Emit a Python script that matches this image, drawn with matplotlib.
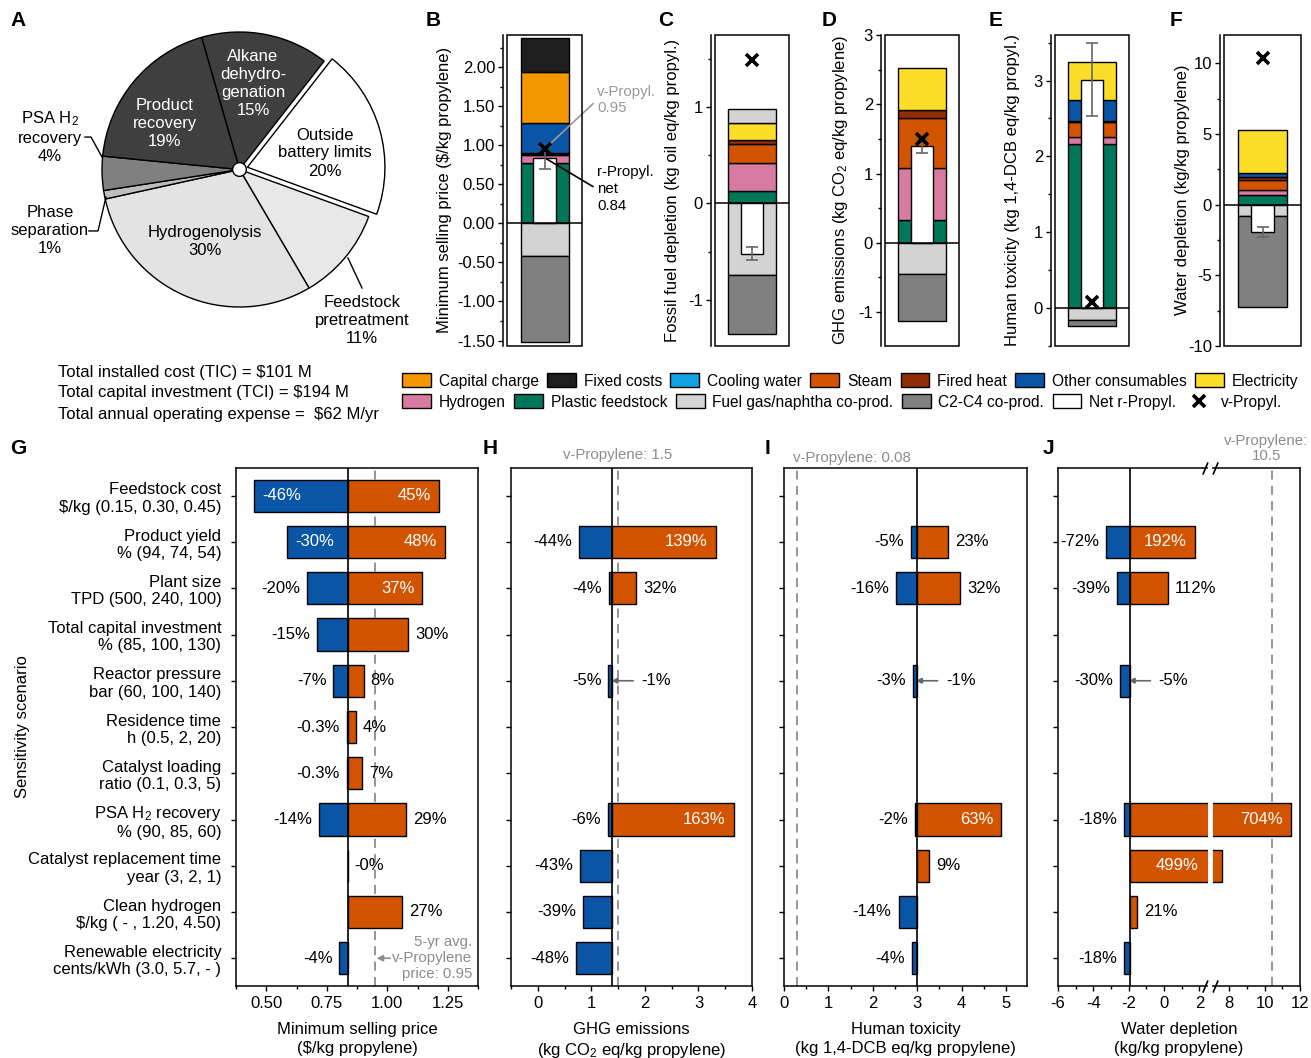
import numpy as np
import matplotlib
matplotlib.use("Agg")
import matplotlib.pyplot as plt
from matplotlib.patches import Patch, Rectangle, Circle
from matplotlib.lines import Line2D
from matplotlib.path import Path
from matplotlib.ticker import MultipleLocator, FormatStrFormatter

plt.rcParams['font.family'] = ['Liberation Sans', 'DejaVu Sans']
plt.rcParams['font.size'] = 12
plt.rcParams['mathtext.fontset'] = 'custom'
plt.rcParams['mathtext.rm'] = 'Liberation Sans'
plt.rcParams['mathtext.default'] = 'regular'
plt.rcParams['axes.linewidth'] = 1.1

W, H = 1311, 1058

# ---------------- data ----------------
# A: installed cost breakdown
pie_labels = ["Alkane\ndehydro-\ngenation\n15%", "Outside\nbattery limits\n20%",
              "Feedstock\npretreatment\n11%", "Hydrogenolysis\n30%", "Phase\nseparation\n1%",
              "PSA H$_2$\nrecovery\n4%", "Product\nrecovery\n19%"]
pie_shares = [15, 20, 11, 30, 1, 4, 19]
pie_colors = ['#3f3f3f', 'white', '#e8e8e8', '#e3e3e3', '#bebebe', '#808080', '#3f3f3f']
cost_lines = ["Total installed cost (TIC) = \\$101 M",
              "Total capital investment (TCI) = \\$194 M",
              "Total annual operating expense =  \\$62 M/yr"]

# B-F: contribution analysis
pos_parts = ["Plastic feedstock", "Hydrogen", "Steam", "Fired heat", "Other consumables",
             "Cooling water", "Electricity", "Capital charge", "Fixed costs", "Fuel gas/naphtha co-prod."]
neg_parts = ["Fuel gas/naphtha co-prod.", "C2-C4 co-prod."]
msp_pos = [0.77, 0.11, 0.01, 0.01, 0.39, 0, 0, 0.65, 0.43, 0]
ffd_pos = [0.13, 0.29, 0.20, 0.04, 0, 0, 0.18, 0, 0, 0.14]
ghg_pos = [0.33, 0.75, 0.72, 0.12, 0, 0, 0.61, 0, 0, 0]
htox_pos = [2.16, 0.10, 0.19, 0.02, 0.27, 0, 0.51, 0, 0, 0]
water_pos = [0.66, 0.40, 0.70, 0.17, 0.31, 0, 3.05, 0, 0, 0]
msp_neg = [-0.42, -1.10]
ffd_neg = [-0.74, -0.62]
ghg_neg = [-0.45, -0.68]
htox_neg = [-0.16, -0.08]
water_neg = [-0.82, -6.40]
net_vals = [0.84, -0.52, 1.40, 3.01, -1.93]
net_err_lo = [0.15, 0.07, 0.11, 0.48, 0.38]
net_err_hi = [0.14, 0.07, 0.10, 0.48, 0.38]
virgin_vals = [0.95, 1.49, 1.50, 0.08, 10.4]

part_colors = {
    "Capital charge": '#f39800', "Fixed costs": '#1e1e1e', "Cooling water": '#11a3e4',
    "Steam": '#d35400', "Fired heat": '#8f2d05', "Other consumables": '#0b55a7',
    "Electricity": '#fcde28', "Hydrogen": '#d87aa2', "Plastic feedstock": '#00765a',
    "Fuel gas/naphtha co-prod.": '#d3d3d3', "C2-C4 co-prod.": '#808080',
}

# G-J: sensitivity
scenarios = ["Feedstock cost\n\\$/kg (0.15, 0.30, 0.45)", "Product yield\n% (94, 74, 54)",
             "Plant size\nTPD (500, 240, 100)", "Total capital investment\n% (85, 100, 130)",
             "Reactor pressure\nbar (60, 100, 140)", "Residence time\nh (0.5, 2, 20)",
             "Catalyst loading\nratio (0.1, 0.3, 5)", "PSA H$_2$ recovery\n% (90, 85, 60)",
             "Catalyst replacement time\nyear (3, 2, 1)", "Clean hydrogen\n\\$/kg ( - , 1.20, 4.50)",
             "Renewable electricity\ncents/kWh (3.0, 5.7, - )"]
nan = np.nan
g_base, h_base, i_base, j_base = 0.836, 1.39, 3.0, -1.9
g_low = [-46, -30, -20, -15, -7, -0.3, -0.3, -14, nan, nan, -4]
g_high = [45, 48, 37, 30, 8, 4, 7, 29, -0.0, 27, nan]
h_low = [nan, -44, -4, nan, -5, nan, nan, -6, -43, -39, -48]
h_high = [nan, 139, 32, nan, -1, nan, nan, 163, nan, nan, nan]
i_low = [nan, -5, -16, nan, -3, nan, nan, -2, nan, -14, -4]
i_high = [nan, 23, 32, nan, -1, nan, nan, 63, 9, nan, nan]
j_low = [nan, -72, -39, nan, -30, nan, nan, -18, nan, nan, -18]
j_high = [nan, 192, 112, nan, -5, nan, nan, 704, 499, 21, nan]
g_low_in = [1, 1, 0, 0, 0, 0, 0, 0, 0, 0, 0]
g_high_in = [1, 1, 1, 0, 0, 0, 0, 0, 0, 0, 0]
no_in = [0] * 11
h_high_in = [0, 1, 0, 0, 0, 0, 0, 1, 0, 0, 0]
i_high_in = [0, 0, 0, 0, 0, 0, 0, 1, 0, 0, 0]
j_high_in = [0, 1, 0, 0, 0, 0, 0, 1, 1, 0, 0]
v_lines = [0.95, 1.5, 0.3, 10.4]

BLUE, ORANGE, GREY = '#0b55a7', '#d35400', '#8c8c8c'
NOTE = 10.8  # size of the small annotation texts


def rect(x0, y0, x1, y1):
    return [x0 / W, 1 - y1 / H, (x1 - x0) / W, (y1 - y0) / H]


fig = plt.figure(figsize=(W / 100, H / 100), dpi=100)

# panel letters
for letter, (x, y) in {'A': (18, 20), 'B': (433, 20), 'C': (666, 20), 'D': (829, 20), 'E': (996, 20),
                       'F': (1176, 20), 'G': (18, 448), 'H': (490, 448), 'I': (767, 448),
                       'J': (1048, 448)}.items():
    fig.text(x / W, 1 - y / H, letter, fontsize=15, fontweight='bold', ha='center', va='center')

# ---------------- A: pie ----------------
ax = fig.add_axes(rect(102, 32, 377, 307))
explode = [0.06 if c == 'white' else 0 for c in pie_colors]
wedges, _ = ax.pie(pie_shares, colors=pie_colors, startangle=106, counterclock=False, explode=explode,
                   radius=1, wedgeprops=dict(edgecolor='black', linewidth=1))
for w in wedges:
    w.set_clip_on(False)
ax.add_patch(Circle((0, 0), 0.05, fc='white', ec='black', lw=1, zorder=5))
ax.set_xlim(-1, 1)
ax.set_ylim(-1, 1)
ax.axis('off')
label_xy = [(0.098, 0.622), (0.622, 0.12), (0.891, -1.095), (-0.251, -0.527),
            (-1.378, -0.447), (-1.378, 0.236), (-0.542, 0.331)]
for lab, (x, y), c in zip(pie_labels, label_xy, pie_colors):
    ax.text(x, y, lab, ha='center', va='center', linespacing=1.25,
            color='white' if c == '#3f3f3f' else 'black')
ax.plot([-1.124, -1.08, -1.0], [0.236, 0.236, 0.091], color='black', lw=1, clip_on=False)
ax.plot([-1.095, -1.029, -0.971], [-0.447, -0.447, -0.2], color='black', lw=1, clip_on=False)
ax.plot([0.789, 0.891], [-0.644, -0.862], color='black', lw=1, clip_on=False)

for k, line in enumerate(cost_lines):
    fig.text(58 / W, 1 - (372 + 21 * k) / H, line, ha='left', va='center')

# ---------------- B-F: stacked contributions ----------------
stack_panels = [
    (rect(507, 35, 582, 346), msp_pos, msp_neg, (-1.57, 2.41), 0.5, 0.25, '%.2f',
     "Minimum selling price (\\$/kg propylene)", 444),
    (rect(715, 35, 789, 346), ffd_pos, ffd_neg, (-1.48, 1.75), 1, 0.5, '%d',
     "Fossil fuel depletion (kg oil eq/kg propyl.)", 672),
    (rect(885, 35, 959, 346), ghg_pos, ghg_neg, (-1.49, 3.0), 1, 0.5, '%d',
     "GHG emissions (kg CO$_2$ eq/kg propylene)", 840),
    (rect(1055, 35, 1129, 346), htox_pos, htox_neg, (-0.5, 3.6), 1, 0.5, '%d',
     "Human toxicity (kg 1,4-DCB eq/kg propyl.)", 1013),
    (rect(1224, 35, 1301, 346), water_pos, water_neg, (-10, 12), 5, 2.5, '%d',
     "Water depletion (kg/kg propylene)", 1182),
]
stack_axes = []
for k, (r, pos, neg, ylim, major, minor, fmt, ylab, ylab_x) in enumerate(stack_panels):
    ax = fig.add_axes(r)
    stack_axes.append(ax)
    bottom = 0
    for name, v in zip(pos_parts, pos):
        if v > 0:
            ax.bar(0, v, bottom=bottom, width=0.64, color=part_colors[name], edgecolor='black', lw=1)
            bottom += v
    bottom = 0
    for name, v in zip(neg_parts, neg):
        ax.bar(0, v, bottom=bottom, width=0.64, color=part_colors[name], edgecolor='black', lw=1)
        bottom += v
    ax.bar(0, net_vals[k], width=0.31, color='white', edgecolor='black', lw=1, zorder=3)
    ax.errorbar(0, net_vals[k], yerr=[[net_err_lo[k]], [net_err_hi[k]]], color='#666666',
                capsize=4, lw=1.2, capthick=1.2, zorder=4)
    ax.plot(0, virgin_vals[k], marker='x', color='black', ms=8, mew=2.6, ls='none', zorder=6)
    ax.axhline(0, color='black', lw=1.1, zorder=5)
    ax.set_xlim(-0.5, 0.5)
    ax.set_ylim(*ylim)
    ax.set_xticks([])
    ax.yaxis.set_major_locator(MultipleLocator(major))
    ax.yaxis.set_minor_locator(MultipleLocator(minor))
    ax.yaxis.set_major_formatter(FormatStrFormatter(fmt))
    ax.tick_params(axis='y', which='major', direction='out', length=3.6, width=1, pad=2)
    ax.tick_params(axis='y', which='minor', direction='out', length=2.2, width=1)
    for s in ('top', 'right', 'bottom'):
        ax.spines[s].set_visible(False)
    ax.spines['left'].set_position(('outward', 3))
    ax.add_patch(Rectangle((0, 0), 1, 1, transform=ax.transAxes, fill=False, lw=1.1,
                           ec='black', clip_on=False, zorder=7))
    fig.text(ylab_x / W, 1 - 190 / H, ylab, rotation=90, ha='center', va='center')

# annotations on B
axb = stack_axes[0]
axb.annotate("v-Propyl.\n0.95", xy=(0, virgin_vals[0]), xytext=(597, H - 100), textcoords='figure pixels',
             ha='left', va='center', color='#999999', linespacing=1.2, fontsize=NOTE,
             arrowprops=dict(arrowstyle='-', color='#999999', lw=1.2, relpos=(0, 0.5), shrinkA=1, shrinkB=3))
axb.annotate("r-Propyl.\nnet\n0.84", xy=(0, net_vals[0]), xytext=(597, H - 189), textcoords='figure pixels',
             ha='left', va='center', color='black', linespacing=1.25, fontsize=NOTE,
             arrowprops=dict(arrowstyle='-', color='black', lw=1.2, relpos=(0, 0.5), shrinkA=1, shrinkB=0))

# legend (two rows)
row1 = ["Capital charge", "Fixed costs", "Cooling water", "Steam", "Fired heat", "Other consumables", "Electricity"]
row2 = ["Hydrogen", "Plastic feedstock", "Fuel gas/naphtha co-prod.", "C2-C4 co-prod."]
leg_kw = dict(loc='center left', frameon=False, handlelength=1.85, handleheight=0.95, handletextpad=0.5,
              columnspacing=0.55, borderpad=0, borderaxespad=0, fontsize=11.2)
h1 = [Patch(fc=part_colors[n], ec='black', lw=1) for n in row1]
fig.legend(h1, row1, ncol=len(row1), bbox_to_anchor=(402 / W, 1 - 381 / H), **leg_kw)
h2 = [Patch(fc=part_colors[n], ec='black', lw=1) for n in row2]
h2 += [Patch(fc='white', ec='black', lw=1),
       Line2D([], [], marker='x', ls='none', color='black', ms=8, mew=2.6)]
lab2 = row2 + ["Net r-Propyl.", "v-Propyl."]
fig.legend(h2, lab2, ncol=len(lab2), bbox_to_anchor=(402 / W, 1 - 402 / H), **leg_kw)

# ---------------- G-J: sensitivity ----------------
brk_lo, brk_hi = 2.62, 6.92


def fwd(x):
    x = np.asarray(x, float)
    return np.where(x <= brk_lo, x, np.where(x >= brk_hi, x - (brk_hi - brk_lo), brk_lo))


def inv(y):
    y = np.asarray(y, float)
    return np.where(y <= brk_lo, y, y + (brk_hi - brk_lo))


def pct(p):
    return f"{p:g}%"


def tornado(ax, base, low, high, low_in, high_in, broken=False):
    rows = np.arange(len(scenarios))
    for r in rows:
        for p, inside, col, side in ((low[r], low_in[r], BLUE, -1), (high[r], high_in[r], ORANGE, 1)):
            if np.isnan(p):
                continue
            end = base + abs(base) * p / 100
            if side > 0 and p < 0:
                ax.annotate(pct(p), xy=(end, r), xytext=(30, 0), textcoords='offset pixels',
                            ha='left', va='center',
                            arrowprops=dict(arrowstyle='-|>', color='#666666', lw=1.2,
                                            mutation_scale=8, shrinkA=4, shrinkB=0))
                continue
            ax.barh(r, end - base, left=base, height=0.7, color=col, edgecolor='black', lw=1)
            if inside:
                anchor = end
                off = -side * 8
                if broken and brk_hi <= end < brk_hi + 1.5:
                    anchor, off = brk_lo, -12
                ax.annotate(pct(p), xy=(anchor, r), xytext=(off, 0), textcoords='offset pixels',
                            ha='right' if side > 0 else 'left', va='center', color='white')
            else:
                ax.annotate(pct(p), xy=(end, r), xytext=(side * 7, 0), textcoords='offset pixels',
                            ha='left' if side > 0 else 'right', va='center', color='black')
    ax.axvline(base, color='black', lw=1.2, zorder=4)
    ax.set_ylim(len(scenarios) - 0.4, -0.6)
    ax.set_yticks(rows)
    ax.tick_params(axis='both', which='major', direction='out', length=3.6, width=1)
    ax.tick_params(axis='x', which='minor', direction='out', length=2.2, width=1)
    ax.tick_params(axis='y', pad=7)


ax_g = fig.add_axes(rect(236, 468, 478, 986))
tornado(ax_g, g_base, g_low, g_high, g_low_in, g_high_in)
ax_g.axvline(v_lines[0], color=GREY, lw=1.3, ls=(0, (5, 3.5)), zorder=0.5)
ax_g.set_xlim(0.375, 1.375)
ax_g.set_xticks([0.5, 0.75, 1.0, 1.25])
ax_g.xaxis.set_minor_locator(MultipleLocator(0.125))
ax_g.xaxis.set_major_formatter(FormatStrFormatter('%.2f'))
ax_g.set_yticklabels(scenarios)
ax_g.set_xlabel("Minimum selling price\n(\\$/kg propylene)", labelpad=8, linespacing=1.3)
ax_g.text(1.35, 10, "5-yr avg.\nv-Propylene\nprice: 0.95", ha='right', va='center', color=GREY,
          linespacing=1.2, fontsize=NOTE)
ax_g.annotate('', xy=(0.956, 10), xytext=(1.012, 10),
              arrowprops=dict(arrowstyle='-|>', color=GREY, lw=1.2, mutation_scale=9, shrinkA=0, shrinkB=0))
fig.text(22 / W, 1 - 727 / H, "Sensitivity scenario", rotation=90, ha='center', va='center')

ax_h = fig.add_axes(rect(511, 468, 752, 986))
tornado(ax_h, h_base, h_low, h_high, no_in, h_high_in)
ax_h.axvline(v_lines[1], color=GREY, lw=1.3, ls=(0, (5, 3.5)), zorder=0.5)
ax_h.set_xlim(-0.5, 4.0)
ax_h.set_xticks([0, 1, 2, 3, 4])
ax_h.xaxis.set_minor_locator(MultipleLocator(0.5))
ax_h.set_yticklabels([])
ax_h.set_xlabel("GHG emissions\n(kg CO$_2$ eq/kg propylene)", labelpad=8, linespacing=1.3)
ax_h.text(v_lines[1], 1.012, "v-Propylene: 1.5", transform=ax_h.get_xaxis_transform(),
          ha='center', va='bottom', color=GREY, fontsize=NOTE)

ax_i = fig.add_axes(rect(784, 468, 1027, 986))
tornado(ax_i, i_base, i_low, i_high, no_in, i_high_in)
ax_i.axvline(v_lines[2], color=GREY, lw=1.3, ls=(0, (5, 3.5)), zorder=0.5)
ax_i.set_xlim(0, 5.47)
ax_i.set_xticks([0, 1, 2, 3, 4, 5])
ax_i.xaxis.set_minor_locator(MultipleLocator(0.5))
ax_i.set_yticklabels([])
ax_i.set_xlabel("Human toxicity\n(kg 1,4-DCB eq/kg propylene)", labelpad=8, linespacing=1.3)
ax_i.text(0.2, 1.005, "v-Propylene: 0.08", transform=ax_i.get_xaxis_transform(),
          ha='left', va='bottom', color=GREY, fontsize=NOTE)

ax_j = fig.add_axes(rect(1058, 468, 1300, 986))
ax_j.set_xscale('function', functions=(fwd, inv))
tornado(ax_j, j_base, j_low, j_high, no_in, j_high_in, broken=True)
ax_j.axvline(v_lines[3], color=GREY, lw=1.3, ls=(0, (5, 3.5)), zorder=0.5)
ax_j.axvline(brk_lo, color='white', lw=3.5, zorder=2)
ax_j.set_xlim(-6, 12)
ax_j.set_xticks([-6, -4, -2, 0, 2, 8, 10, 12])
ax_j.set_xticks([-5, -3, -1, 1, 9, 11], minor=True)
ax_j.set_xticklabels(['-6', '-4', '-2', '0', '2', '8', '10', '12'])
ax_j.set_yticklabels([])
ax_j.set_xlabel("Water depletion\n(kg/kg propylene)", labelpad=8, linespacing=1.3)
ax_j.text(10.1, 1.01, "v-Propylene:\n10.5", transform=ax_j.get_xaxis_transform(),
          ha='center', va='bottom', color=GREY, linespacing=1.1, fontsize=NOTE)
slash = Path([(-1.5, -1.2), (-0.5, 1.2), (0.5, -1.2), (1.5, 1.2)],
             [Path.MOVETO, Path.LINETO, Path.MOVETO, Path.LINETO])
ax_j.plot([brk_lo, brk_lo], [0, 1], transform=ax_j.get_xaxis_transform(), ls='none', marker='|',
          ms=9, mew=3, color='white', clip_on=False, zorder=8)
ax_j.plot([brk_lo, brk_lo], [0, 1], transform=ax_j.get_xaxis_transform(), ls='none', marker=slash,
          ms=11, mew=1.2, color='black', clip_on=False, zorder=9)

fig.savefig('out.png', dpi=100)
